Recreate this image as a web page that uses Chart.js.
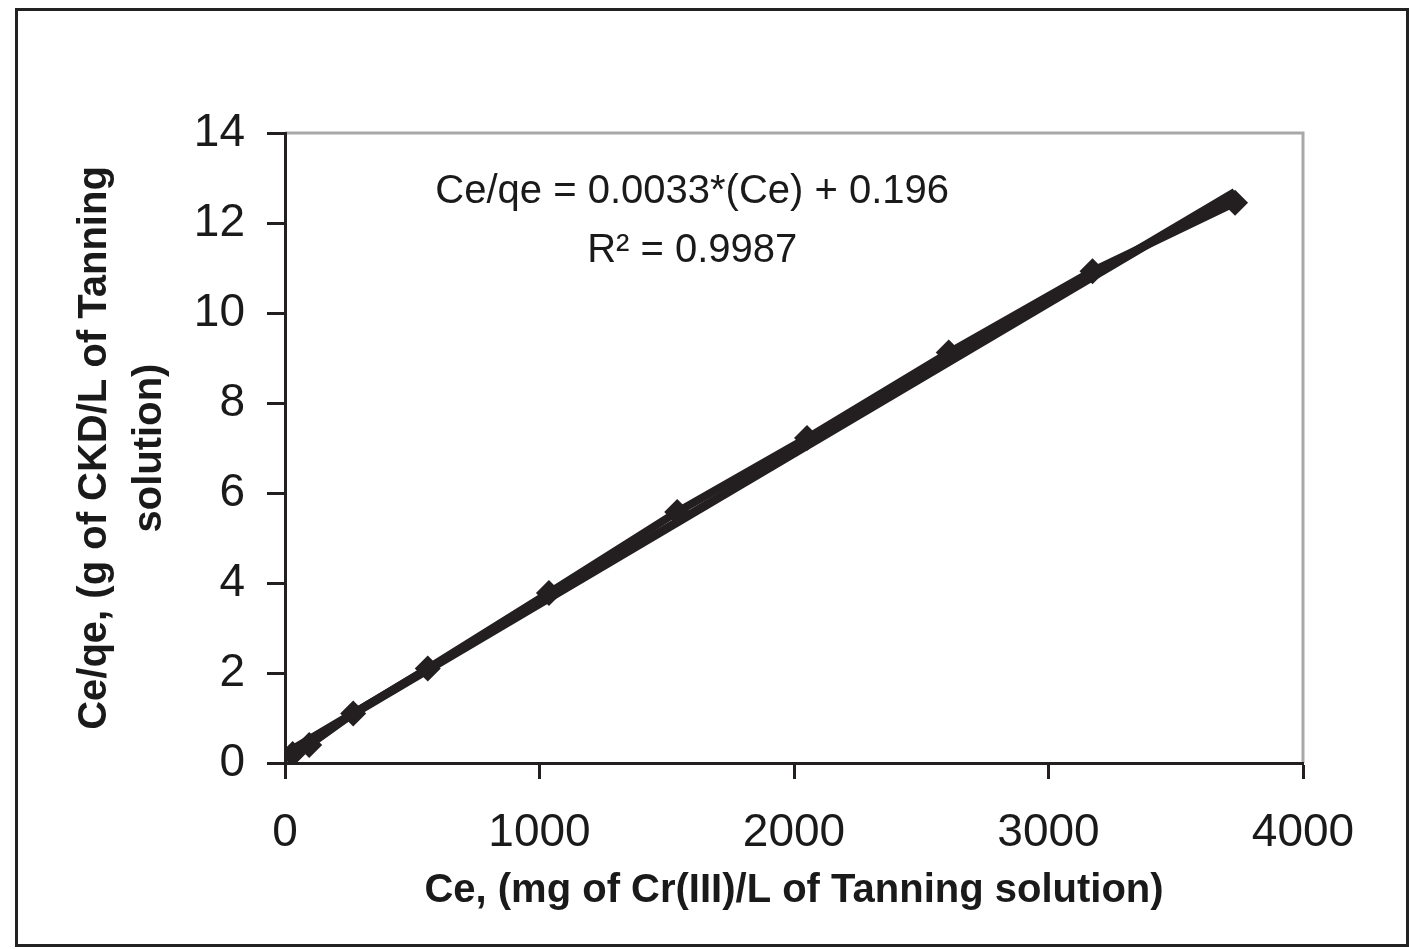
<!DOCTYPE html>
<html>
<head>
<meta charset="utf-8">
<script src="https://cdn.jsdelivr.net/npm/chart.js@4/dist/chart.umd.min.js"></script>
<style>
  html, body { margin: 0; padding: 0; background: #fff; }
  #wrap { width: 1409px; height: 949px; }
</style>
</head>
<body>
<div id="wrap"><canvas id="chart" width="1409" height="949"></canvas></div>
<script>
// data
const ceValues = [30, 95, 268, 561, 1037, 1541, 2051, 2608, 3173, 3733];
const ratioValues = [0.20, 0.40, 1.10, 2.10, 3.78, 5.58, 7.22, 9.12, 10.93, 12.45];
// linear trendline as drawn in the picture, its two ends
const trendX = [30, 3733];
const trendY = [0.30, 12.68];
const xTicks = [0, 1000, 2000, 3000, 4000];
const yTicks = [0, 2, 4, 6, 8, 10, 12, 14];
const eqLine1 = 'Ce/qe = 0.0033*(Ce) + 0.196';
const eqLine2 = 'R² = 0.9987';

const INK = '#231f20';
const FONT = "'Liberation Sans', Arial, sans-serif";

const toPoints = (xs, ys) => xs.map((x, i) => ({ x: x, y: ys[i] }));

// outer frame + grey plot border
const framePlugin = {
    id: 'frame',
    beforeDraw(chart) {
        const ctx = chart.ctx;
        ctx.save();
        ctx.fillStyle = '#fff';
        ctx.fillRect(0, 0, chart.width, chart.height);
        ctx.strokeStyle = '#222';
        ctx.lineWidth = 3;
        ctx.strokeRect(16.5, 9.5, 1391, 936);
        const a = chart.chartArea;
        ctx.strokeStyle = '#a8a8a8';
        ctx.beginPath();
        ctx.moveTo(a.left, a.top);
        ctx.lineTo(a.right, a.top);
        ctx.lineTo(a.right, a.bottom);
        ctx.stroke();
        ctx.restore();
    }
};

// regression equation label
const equationPlugin = {
    id: 'equation',
    afterDatasetsDraw(chart) {
        const ctx = chart.ctx;
        const xs = chart.scales.x, ys = chart.scales.y;
        const cx = xs.getPixelForValue(1600);
        ctx.save();
        ctx.fillStyle = '#1a1a1a';
        ctx.font = '40px ' + FONT;
        ctx.textAlign = 'center';
        ctx.textBaseline = 'middle';
        ctx.fillText(eqLine1, cx, ys.getPixelForValue(12.68));
        ctx.fillText(eqLine2, cx, ys.getPixelForValue(11.38));
        ctx.restore();
    }
};

new Chart(document.getElementById('chart'), {
    type: 'scatter',
    data: {
        datasets: [{
            label: 'Ce/qe',
            data: toPoints(ceValues, ratioValues),
            showLine: true,
            borderColor: INK,
            backgroundColor: INK,
            borderWidth: 8,
            pointStyle: 'rectRot',
            pointRadius: 13,
            pointBorderWidth: 0,
            order: 1
        }, {
            label: 'Linear fit',
            data: toPoints(trendX, trendY),
            showLine: true,
            borderColor: INK,
            borderWidth: 9,
            pointRadius: 0,
            order: 2
        }]
    },
    options: {
        responsive: false,
        animation: false,
        layout: { padding: { left: 40, top: 133, right: 106, bottom: 30 } },
        plugins: {
            legend: { display: false },
            tooltip: { enabled: false }
        },
        scales: {
            x: {
                type: 'linear',
                min: 0,
                max: 4000,
                afterFit: s => { s.height = 156; },
                afterBuildTicks: s => { s.ticks = xTicks.map(v => ({ value: v })); },
                border: { color: INK, width: 3 },
                grid: { drawOnChartArea: false, tickLength: 16, tickWidth: 3, tickColor: INK },
                ticks: {
                    color: '#1a1a1a',
                    padding: 27,
                    font: { family: FONT, size: 46 },
                    callback: v => String(v)
                },
                title: {
                    display: true,
                    text: 'Ce, (mg of Cr(III)/L of Tanning solution)',
                    color: '#1a1a1a',
                    font: { family: FONT, size: 40, weight: 'bold' },
                    padding: { top: 0, bottom: 4 }
                }
            },
            y: {
                type: 'linear',
                min: 0,
                max: 14,
                afterFit: s => { s.width = 245; },
                afterBuildTicks: s => { s.ticks = yTicks.map(v => ({ value: v })); },
                border: { color: INK, width: 3 },
                grid: { drawOnChartArea: false, tickLength: 18, tickWidth: 3, tickColor: INK },
                ticks: {
                    color: '#1a1a1a',
                    padding: 22,
                    font: { family: FONT, size: 46 },
                    callback: v => String(v)
                },
                title: {
                    display: true,
                    text: ['Ce/qe, (g of CKD/L of Tanning', 'solution)'],
                    color: '#1a1a1a',
                    font: { family: FONT, size: 40, weight: 'bold', lineHeight: 1.375 },
                    padding: { top: 27, bottom: 0 }
                }
            }
        }
    },
    plugins: [framePlugin, equationPlugin]
});
</script>
</body>
</html>
